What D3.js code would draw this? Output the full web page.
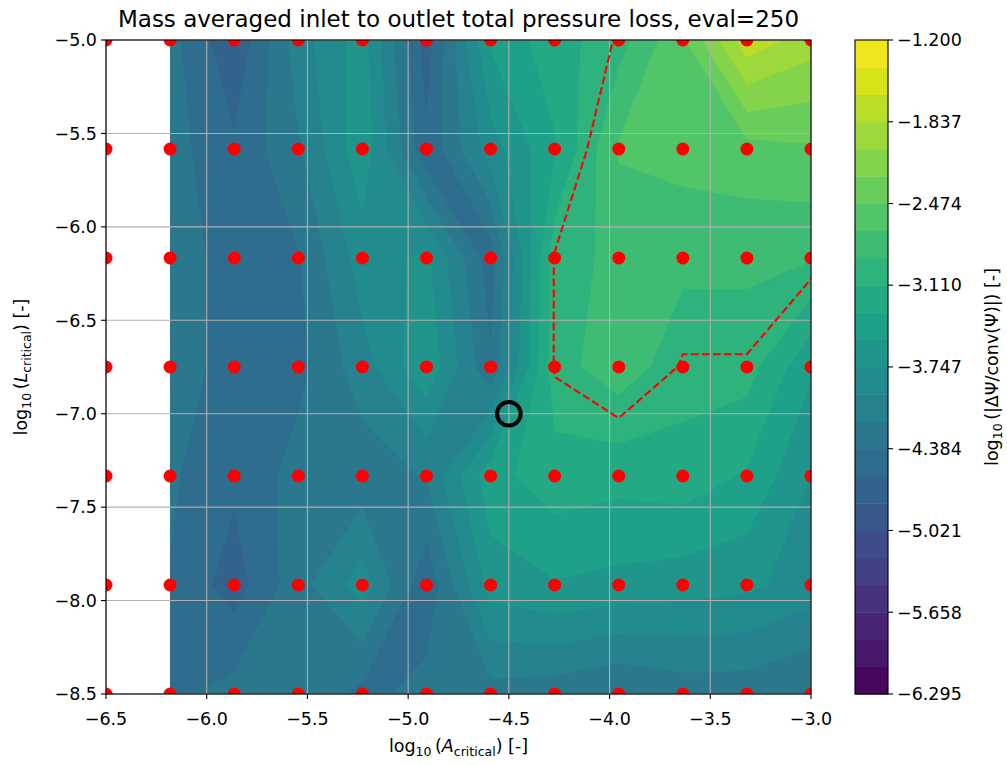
<!DOCTYPE html>
<html>
<head>
<meta charset="utf-8">
<script src="https://cdn.jsdelivr.net/npm/d3@7"></script>
<style>
body { margin: 0; background: #fff; }
text { font-family: "DejaVu Sans", sans-serif; fill: #000; }
</style>
</head>
<body>
<div id="chart"></div>
<script>
// evaluated grid, log10 values
var aCrit = [-6.5, -6.1818, -5.8636, -5.5455, -5.2273, -4.9091, -4.5909, -4.2727, -3.9545, -3.6364, -3.3182, -3.0];
var lCrit = [-8.5, -7.9167, -7.3333, -6.75, -6.1667, -5.5833, -5.0];

// log10(|dPsi/conv(Psi)|), one row per lCrit value (bottom to top); first column failed (NaN)
var row0 = [NaN, -4.45, -4.3, -4.2, -4.45, -4.3, -4.25, -4.3, -4.4, -4.3, -4.3, -4.4];
var row1 = [NaN, -4.4, -4.7, -4.25, -3.85, -4.55, -3.65, -3.55, -3.6, -3.65, -3.7, -3.85];
var row2 = [NaN, -4.35, -4.55, -4.3, -4.3, -4.15, -3.4, -3.2, -3.25, -3.2, -3.35, -3.75];
var row3 = [NaN, -4.3, -4.45, -4.45, -4.05, -3.58, -4.35, -2.98, -2.78, -3.02, -3.02, -3.5];
var row4 = [NaN, -4.3, -4.45, -4.4, -3.85, -3.7, -4.5, -2.98, -2.85, -2.85, -2.85, -2.88];
var row5 = [NaN, -4.3, -4.55, -4.2, -3.6, -4.55, -3.85, -3.35, -2.66, -2.6, -2.55, -2.5];
var row6 = [NaN, -4.3, -4.78, -4.05, -3.65, -4.7, -3.5, -3.2, -2.98, -2.5, -1.7, -1.95];
var lossRows = [row0, row1, row2, row3, row4, row5, row6];

var xTicks = [-6.5, -6.0, -5.5, -5.0, -4.5, -4.0, -3.5, -3.0];
var yTicks = [-5.0, -5.5, -6.0, -6.5, -7.0, -7.5, -8.0, -8.5];
var cbarTicks = [-6.295, -5.658, -5.021, -4.384, -3.747, -3.110, -2.474, -1.837, -1.200];
var cbarMin = -6.295, cbarMax = -1.2, nBands = 24;
var tolLevel = -3.0;
var designPoint = [-4.5, -7.0];

var W = 1007, H = 765;
var axL = 106, axR = 811, axT = 40, axB = 694;
var fs = 17.5, fsSub = 12.5;

var svg = d3.select("#chart").append("svg")
    .attr("width", W)
    .attr("height", H);

var x = d3.scaleLinear().domain([-6.5, -3.0]).range([axL, axR]);
var y = d3.scaleLinear().domain([-8.5, -5.0]).range([axB, axT]);

var defs = svg.append("defs");
defs.append("clipPath").attr("id", "axclip")
    .append("rect")
    .attr("x", axL).attr("y", axT)
    .attr("width", axR - axL).attr("height", axB - axT);
defs.append("clipPath").attr("id", "dataclip")
    .append("rect")
    .attr("x", x(aCrit[1])).attr("y", y(lCrit[6]))
    .attr("width", x(aCrit[11]) - x(aCrit[1]))
    .attr("height", y(lCrit[0]) - y(lCrit[6]));

// contour grid: drop the empty first column, top row first
var nx = aCrit.length - 1, ny = lCrit.length;
var values = [];
for (var j = ny - 1; j >= 0; j--) {
    values = values.concat(lossRows[j].slice(1));
}

// grid index i sits at i + 0.5 in d3.contours space
var gx = d3.scaleLinear().domain([0.5, nx - 0.5]).range([x(aCrit[1]), x(aCrit[nx])]);
var gy = d3.scaleLinear().domain([0.5, ny - 0.5]).range([y(lCrit[ny - 1]), y(lCrit[0])]);
var path = d3.geoPath(d3.geoTransform({
    point: function (px, py) { this.stream.point(gx(px), gy(py)); }
}));

var levels = d3.range(nBands).map(function (i) {
    return cbarMin + (cbarMax - cbarMin) * i / nBands;
});
var bandStep = (cbarMax - cbarMin) / nBands;
var bandColor = function (i) { return d3.interpolateViridis((i + 0.5) / nBands); };

var bands = d3.contours().size([nx, ny]).thresholds(levels)(values);

svg.append("g")
    .attr("clip-path", "url(#dataclip)")
    .selectAll("path")
    .data(bands)
    .enter().append("path")
    .attr("d", path)
    .attr("fill", function (d, i) { return bandColor(i); })
    .attr("stroke", function (d, i) { return bandColor(i); })
    .attr("stroke-width", 0.4);

// grid lines
var grid = svg.append("g");
xTicks.forEach(function (t) {
    grid.append("line")
        .attr("x1", x(t)).attr("x2", x(t))
        .attr("y1", axT).attr("y2", axB)
        .attr("stroke", "#b0b0b0").attr("stroke-width", 1.1);
});
yTicks.forEach(function (t) {
    grid.append("line")
        .attr("x1", axL).attr("x2", axR)
        .attr("y1", y(t)).attr("y2", y(t))
        .attr("stroke", "#b0b0b0").attr("stroke-width", 1.1);
});

// tolerance contour
var tolLine = d3.contours().size([nx, ny]).thresholds([tolLevel])(values);
svg.append("g")
    .attr("clip-path", "url(#dataclip)")
    .selectAll("path")
    .data(tolLine)
    .enter().append("path")
    .attr("d", path)
    .attr("fill", "none")
    .attr("stroke", "#ff0000")
    .attr("stroke-width", 2.1)
    .attr("stroke-dasharray", "7.7,3.3");

// sample points
var pts = [];
lCrit.forEach(function (l) {
    aCrit.forEach(function (a) { pts.push([a, l]); });
});
svg.append("g")
    .attr("clip-path", "url(#axclip)")
    .selectAll("circle")
    .data(pts)
    .enter().append("circle")
    .attr("cx", function (d) { return x(d[0]); })
    .attr("cy", function (d) { return y(d[1]); })
    .attr("r", 6.5)
    .attr("fill", "#ff0000");

svg.append("circle")
    .attr("cx", x(designPoint[0]))
    .attr("cy", y(designPoint[1]))
    .attr("r", 11.8)
    .attr("fill", "none")
    .attr("stroke", "#000")
    .attr("stroke-width", 4);

// axes frame and ticks
svg.append("rect")
    .attr("x", axL).attr("y", axT)
    .attr("width", axR - axL).attr("height", axB - axT)
    .attr("fill", "none").attr("stroke", "#000").attr("stroke-width", 1.1);

var fmt = function (v, p) { return d3.format("." + p + "f")(v).replace("-", "\u2212"); };

xTicks.forEach(function (t) {
    svg.append("line")
        .attr("x1", x(t)).attr("x2", x(t))
        .attr("y1", axB).attr("y2", axB + 5)
        .attr("stroke", "#000").attr("stroke-width", 1.1);
    svg.append("text")
        .attr("x", x(t)).attr("y", 725)
        .attr("text-anchor", "middle")
        .style("font-size", fs + "px")
        .text(fmt(t, 1));
});
yTicks.forEach(function (t) {
    svg.append("line")
        .attr("x1", axL - 5).attr("x2", axL)
        .attr("y1", y(t)).attr("y2", y(t))
        .attr("stroke", "#000").attr("stroke-width", 1.1);
    svg.append("text")
        .attr("x", axL - 9).attr("y", y(t))
        .attr("dy", "0.36em")
        .attr("text-anchor", "end")
        .style("font-size", fs + "px")
        .text(fmt(t, 1));
});

// title and axis labels
svg.append("text")
    .attr("x", (axL + axR) / 2).attr("y", 27)
    .attr("text-anchor", "middle")
    .style("font-size", "23px")
    .text("Mass averaged inlet to outlet total pressure loss, eval=250");

function mathLabel(g, sym, sub) {
    var t = g.append("text").attr("text-anchor", "middle").style("font-size", fs + "px");
    t.append("tspan").text("log");
    t.append("tspan").attr("dy", 4).style("font-size", fsSub + "px").text("10");
    t.append("tspan").attr("dy", -4).text("\u2009(");
    t.append("tspan").style("font-style", "italic").text(sym);
    t.append("tspan").attr("dy", 4).style("font-size", fsSub + "px").text(sub);
    t.append("tspan").attr("dy", -4).text(") [-]");
    return t;
}

mathLabel(svg.append("g").attr("transform", "translate(" + (axL + axR) / 2 + ",752)"), "A", "critical");
mathLabel(svg.append("g").attr("transform", "translate(27," + (axT + axB) / 2 + ") rotate(-90)"), "L", "critical");

// colorbar
var cbL = 855, cbW = 33;
var cy = d3.scaleLinear().domain([cbarMin, cbarMax]).range([axB, axT]);
var cb = svg.append("g");
cb.selectAll("rect.band")
    .data(levels)
    .enter().append("rect")
    .attr("class", "band")
    .attr("x", cbL)
    .attr("width", cbW)
    .attr("y", function (d) { return cy(d + bandStep); })
    .attr("height", function (d) { return cy(d) - cy(d + bandStep) + 0.5; })
    .attr("fill", function (d, i) { return bandColor(i); });
cb.append("rect")
    .attr("x", cbL).attr("y", axT)
    .attr("width", cbW).attr("height", axB - axT)
    .attr("fill", "none").attr("stroke", "#000").attr("stroke-width", 1.1);
cbarTicks.forEach(function (t) {
    cb.append("line")
        .attr("x1", cbL + cbW).attr("x2", cbL + cbW + 5)
        .attr("y1", cy(t)).attr("y2", cy(t))
        .attr("stroke", "#000").attr("stroke-width", 1.1);
    cb.append("text")
        .attr("x", cbL + cbW + 9).attr("y", cy(t))
        .attr("dy", "0.36em")
        .style("font-size", fs + "px")
        .text(fmt(t, 3));
});

var cbLabel = svg.append("g")
    .attr("transform", "translate(998," + (axT + axB) / 2 + ") rotate(-90)")
    .append("text")
    .attr("text-anchor", "middle")
    .style("font-size", fs + "px");
cbLabel.append("tspan").text("log");
cbLabel.append("tspan").attr("dy", 4).style("font-size", fsSub + "px").text("10");
cbLabel.append("tspan").attr("dy", -4).text("\u2009(|\u0394\u03a8/conv(\u03a8)|) [-]");
</script>
</body>
</html>
